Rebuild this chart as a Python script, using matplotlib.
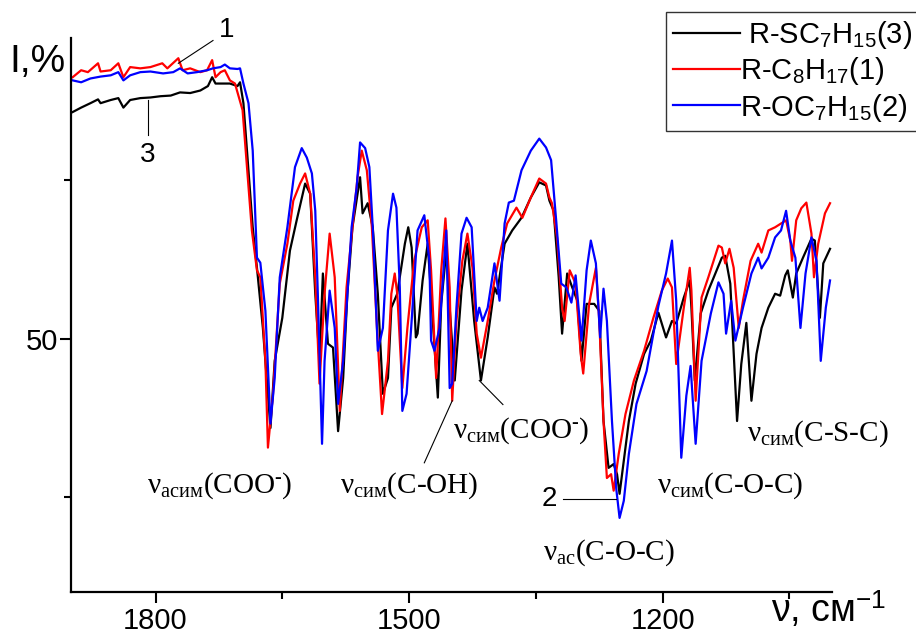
import numpy as np
import matplotlib.pyplot as plt
from matplotlib.ticker import FixedLocator
from matplotlib.lines import Line2D

plt.rcParams['font.family'] = ['Liberation Sans', 'DejaVu Sans']
plt.rcParams['mathtext.fontset'] = 'custom'
plt.rcParams['mathtext.rm'] = 'Liberation Serif'
plt.rcParams['mathtext.sf'] = 'Liberation Sans'
plt.rcParams['mathtext.it'] = 'Liberation Serif:italic'

# R-SC7H15 (3), black
wn_3 = [1898, 1888, 1877, 1868, 1865, 1853, 1844, 1838, 1830, 1818, 1806, 1794,
        1782, 1771, 1759, 1747, 1738, 1733, 1729, 1720, 1712, 1703, 1700, 1696,
        1685, 1680, 1673, 1664, 1659, 1650, 1641, 1633, 1623, 1617, 1611, 1606,
        1602, 1596, 1590, 1584, 1578, 1573, 1567, 1558, 1555, 1549, 1543, 1537,
        1531, 1525, 1521, 1514, 1505, 1501, 1497, 1492, 1490, 1484, 1478, 1472,
        1466, 1462, 1456, 1452, 1446, 1438, 1431, 1423, 1415, 1407, 1399, 1396,
        1387, 1378, 1367, 1356, 1346, 1338, 1334, 1329, 1323, 1319, 1313, 1307,
        1301, 1296, 1290, 1281, 1275, 1270, 1264, 1258, 1254, 1251, 1246, 1240,
        1232, 1222, 1214, 1205, 1196, 1189, 1184, 1175, 1168, 1166, 1162, 1155,
        1146, 1130, 1126, 1120, 1112, 1107, 1101, 1095, 1089, 1083, 1075, 1067,
        1061, 1055, 1052, 1046, 1042, 1034, 1024, 1020, 1014, 1010, 1002]
i_3 = [85.8, 86.5, 87.2, 87.8, 87.2, 87.7, 88.0, 86.5, 87.7, 88.0, 88.1, 88.3,
       88.4, 88.9, 88.8, 89.2, 89.9, 91.3, 90.3, 90.3, 90.3, 89.9, 90.5, 87.2,
       67.6, 61.2, 51.7, 35.9, 46.5, 53.3, 63.9, 68.7, 74.5, 72.9, 57.1, 46.5,
       60.3, 49.2, 48.6, 35.4, 43.8, 57.1, 67.6, 75.5, 69.8, 71.4, 67.6, 57.1,
       41.3, 43.8, 54.9, 57.1, 65.0, 67.6, 64.4, 50.2, 50.8, 59.2, 65.0, 52.8,
       40.7, 55.5, 63.9, 54.9, 43.4, 57.6, 65.0, 52.8, 43.4, 50.2, 58.1, 57.1,
       65.0, 67.1, 69.1, 72.3, 74.7, 74.2, 71.8, 70.2, 59.7, 50.8, 60.3, 58.1,
       56.0, 46.5, 55.5, 55.5, 54.4, 37.0, 29.6, 30.2, 28.6, 25.5, 30.7, 37.0,
       42.9, 47.6, 49.7, 54.1, 50.2, 52.8, 52.4, 56.5, 59.2, 54.9, 43.4, 54.0,
       57.6, 62.8, 63.1, 58.7, 37.0, 46.0, 52.5, 40.2, 47.6, 51.7, 54.9, 57.1,
       56.8, 60.0, 60.8, 56.5, 60.3, 62.8, 65.8, 65.5, 53.3, 61.9, 64.2]

# R-C8H17 (1), red
wn_1 = [1898, 1888, 1880, 1868, 1865, 1853, 1844, 1838, 1830, 1818, 1806, 1792,
        1786, 1773, 1768, 1759, 1747, 1739, 1733, 1729, 1723, 1718, 1712, 1706,
        1697, 1686, 1680, 1676, 1670, 1667, 1661, 1653, 1644, 1637, 1629, 1623,
        1617, 1611, 1606, 1600, 1594, 1588, 1582, 1574, 1567, 1561, 1556, 1550,
        1544, 1538, 1532, 1525, 1521, 1517, 1514, 1508, 1502, 1494, 1485, 1478,
        1474, 1468, 1462, 1457, 1452, 1449, 1444, 1437, 1431, 1425, 1420, 1415,
        1407, 1399, 1391, 1384, 1373, 1366, 1356, 1346, 1338, 1334, 1331, 1325,
        1319, 1316, 1310, 1303, 1297, 1294, 1287, 1279, 1275, 1270, 1266, 1261,
        1258, 1252, 1244, 1234, 1222, 1211, 1201, 1194, 1189, 1184, 1175, 1168,
        1166, 1161, 1154, 1146, 1134, 1130, 1126, 1121, 1116, 1110, 1105, 1096,
        1087, 1083, 1075, 1067, 1060, 1054, 1049, 1047, 1042, 1036, 1030, 1024,
        1021, 1016, 1008, 1002]
i_1 = [91.3, 92.4, 92.1, 93.5, 92.2, 92.4, 93.5, 91.3, 92.9, 92.7, 92.9, 93.5,
       92.7, 94.3, 92.4, 92.7, 92.1, 92.4, 94.0, 91.3, 92.1, 92.4, 90.8, 90.3,
       86.1, 67.1, 60.8, 59.7, 46.5, 32.8, 41.3, 58.7, 65.0, 71.8, 74.5, 76.1,
       72.9, 59.7, 42.9, 57.1, 66.6, 59.7, 38.6, 58.1, 67.6, 75.5, 79.7, 76.6,
       67.6, 51.7, 38.1, 46.5, 57.1, 60.3, 57.1, 42.2, 51.7, 62.3, 67.6, 68.7,
       60.8, 43.8, 60.8, 69.0, 58.1, 40.2, 52.8, 62.3, 66.6, 61.2, 50.8, 47.0,
       52.8, 59.2, 64.4, 68.2, 70.7, 69.1, 72.3, 75.3, 74.5, 72.3, 71.4, 66.0,
       54.9, 52.8, 60.8, 58.7, 47.6, 44.5, 55.5, 61.2, 52.8, 37.0, 28.0, 28.6,
       26.0, 31.8, 38.1, 43.4, 48.1, 53.3, 57.6, 59.5, 58.1, 46.0, 54.9, 61.2,
       57.6, 40.2, 56.5, 59.7, 64.7, 64.4, 61.9, 64.2, 61.2, 51.7, 56.0, 62.3,
       65.0, 63.6, 67.1, 67.6, 68.2, 68.7, 65.5, 62.3, 68.7, 70.6, 71.5, 66.6,
       59.7, 65.0, 69.8, 71.4]

# R-OC7H15 (2), blue
wn_2 = [1898, 1888, 1877, 1865, 1853, 1844, 1838, 1830, 1818, 1806, 1791, 1779,
        1771, 1762, 1751, 1739, 1732, 1723, 1718, 1712, 1703, 1700, 1696, 1690,
        1685, 1680, 1676, 1670, 1664, 1659, 1653, 1644, 1635, 1627, 1621, 1615,
        1611, 1608, 1603, 1600, 1594, 1588, 1584, 1578, 1568, 1562, 1558, 1552,
        1547, 1543, 1537, 1531, 1525, 1519, 1515, 1511, 1508, 1503, 1497, 1490,
        1482, 1476, 1474, 1470, 1464, 1456, 1452, 1449, 1444, 1438, 1432, 1426,
        1420, 1417, 1413, 1407, 1399, 1393, 1387, 1382, 1376, 1367, 1356, 1346,
        1338, 1332, 1326, 1320, 1314, 1308, 1303, 1296, 1290, 1285, 1279, 1274,
        1270, 1266, 1260, 1255, 1251, 1246, 1240, 1231, 1219, 1205, 1196, 1189,
        1184, 1178, 1172, 1167, 1161, 1154, 1143, 1134, 1128, 1125, 1119, 1114,
        1105, 1095, 1087, 1083, 1075, 1067, 1060, 1054, 1049, 1043, 1037, 1031,
        1024, 1018, 1013, 1007, 1002]
i_2 = [90.8, 90.5, 91.1, 91.4, 91.6, 92.1, 90.8, 91.6, 92.1, 92.2, 91.9, 92.1,
       92.7, 91.9, 92.1, 92.4, 92.7, 92.9, 93.3, 92.7, 92.6, 92.7, 90.3, 87.2,
       79.7, 62.8, 62.0, 54.4, 36.6, 43.8, 59.7, 67.6, 77.1, 80.1, 78.6, 76.1,
       70.2, 57.1, 33.4, 46.5, 57.6, 51.7, 39.7, 46.5, 67.6, 73.9, 81.0, 80.1,
       77.1, 67.6, 48.1, 51.7, 67.1, 72.9, 70.7, 58.1, 38.6, 41.3, 52.8, 67.1,
       69.5, 62.3, 49.7, 48.1, 51.7, 67.1, 42.2, 42.9, 54.9, 66.6, 69.1, 67.6,
       52.8, 54.9, 52.8, 54.9, 61.9, 56.0, 68.2, 71.5, 71.8, 76.6, 79.7, 81.6,
       80.2, 78.2, 68.7, 58.7, 58.1, 55.7, 60.0, 49.7, 60.8, 65.5, 61.9, 50.2,
       57.9, 52.8, 37.0, 26.4, 21.7, 24.4, 31.8, 39.7, 44.9, 55.2, 60.3, 65.5,
       56.0, 31.2, 41.0, 45.7, 33.4, 46.5, 54.0, 58.9, 57.1, 50.8, 56.0, 49.7,
       54.9, 60.3, 62.8, 61.1, 62.8, 66.0, 67.1, 70.2, 65.5, 62.8, 51.7, 60.3,
       66.0, 62.3, 46.5, 54.9, 59.2]

labels = [r'R-SC$_{\mathsf{7}}$H$_{\mathsf{15}}$(3)',
          r'R-C$_{\mathsf{8}}$H$_{\mathsf{17}}$(1)',
          r'R-OC$_{\mathsf{7}}$H$_{\mathsf{15}}$(2)']

fig = plt.figure(figsize=(9.16, 6.39), dpi=100)
ax = fig.add_axes([0.0775, 0.0736, 0.8305, 0.867])

ax.plot(wn_3, i_3, color='black', lw=1.6)
ax.plot(wn_1, i_1, color='red', lw=1.6)
ax.plot(wn_2, i_2, color='blue', lw=1.6)

ax.set_xlim(1900, 1000)
ax.set_ylim(10, 97.5)
ax.spines['top'].set_visible(False)
ax.spines['right'].set_visible(False)
for s in ['left', 'bottom']:
    ax.spines[s].set_linewidth(1.6)

ax.xaxis.set_major_locator(FixedLocator([1800, 1500, 1200]))
ax.xaxis.set_minor_locator(FixedLocator([1650, 1350, 1050]))
ax.yaxis.set_major_locator(FixedLocator([50]))
ax.yaxis.set_minor_locator(FixedLocator([25, 75]))
ax.tick_params(which='major', direction='out', length=8, width=1.5, labelsize=21, pad=3)
ax.tick_params(which='minor', direction='out', length=5, width=1.5)
ax.tick_params(axis='y', which='major', pad=1)

fig.text(0.041, 0.903, 'I,%', fontsize=28, ha='center', va='center')
fig.text(0.905, 0.045, r'ν, см$^{\mathsf{-1}}$', fontsize=27, ha='center', va='center')

serif = 'Liberation Serif'
ann = dict(fontsize=21, family=serif, ha='center', va='center')
minus = r'$^{\text{-}}$'
ax.text(1724, 26.8, r'ν$_{\mathrm{асим}}$(COO' + minus + ')', **ann)
ax.text(1500, 26.8, r'ν$_{\mathrm{сим}}$(C-OH)', **ann)
ax.text(1367, 35.4, r'ν$_{\mathrm{сим}}$(COO' + minus + ')', **ann)
ax.text(1264, 16.2, r'ν$_{\mathrm{ас}}$(C-O-C)', **ann)
ax.text(1120, 26.8, r'ν$_{\mathrm{сим}}$(C-O-C)', **ann)
ax.text(1017, 35.0, r'ν$_{\mathrm{сим}}$(C-S-C)', clip_on=False, **ann)

lk = dict(color='black', lw=0.8)
ax.plot([1482, 1449], [30.4, 40.2], **lk)
ax.plot([1417, 1389], [43.4, 39.6], **lk)
ax.plot([1318, 1255], [24.7, 24.7], **lk)
ax.plot([1732, 1773], [97.1, 93.5], clip_on=False, **lk)
ax.plot([1809, 1809], [87.7, 82.1], **lk)
ax.text(1334, 24.7, '2', fontsize=20, ha='center', va='center')
ax.text(1716, 98.7, '1', fontsize=20, ha='center', va='center', clip_on=False)
ax.text(1809, 79.0, '3', fontsize=20, ha='center', va='center')

handles = [Line2D([], [], color=c, lw=1.6) for c in ['black', 'red', 'blue']]
leg = fig.legend(handles, [' ' + labels[0], labels[1], labels[2]],
                 loc='upper right', bbox_to_anchor=(1.004, 0.982), fontsize=21,
                 frameon=True, fancybox=False, edgecolor='black',
                 handlelength=2.3, handletextpad=0.0, borderpad=0.25,
                 labelspacing=0.15, borderaxespad=0)
leg.get_frame().set_linewidth(1.0)

fig.savefig('out.png', dpi=100)
